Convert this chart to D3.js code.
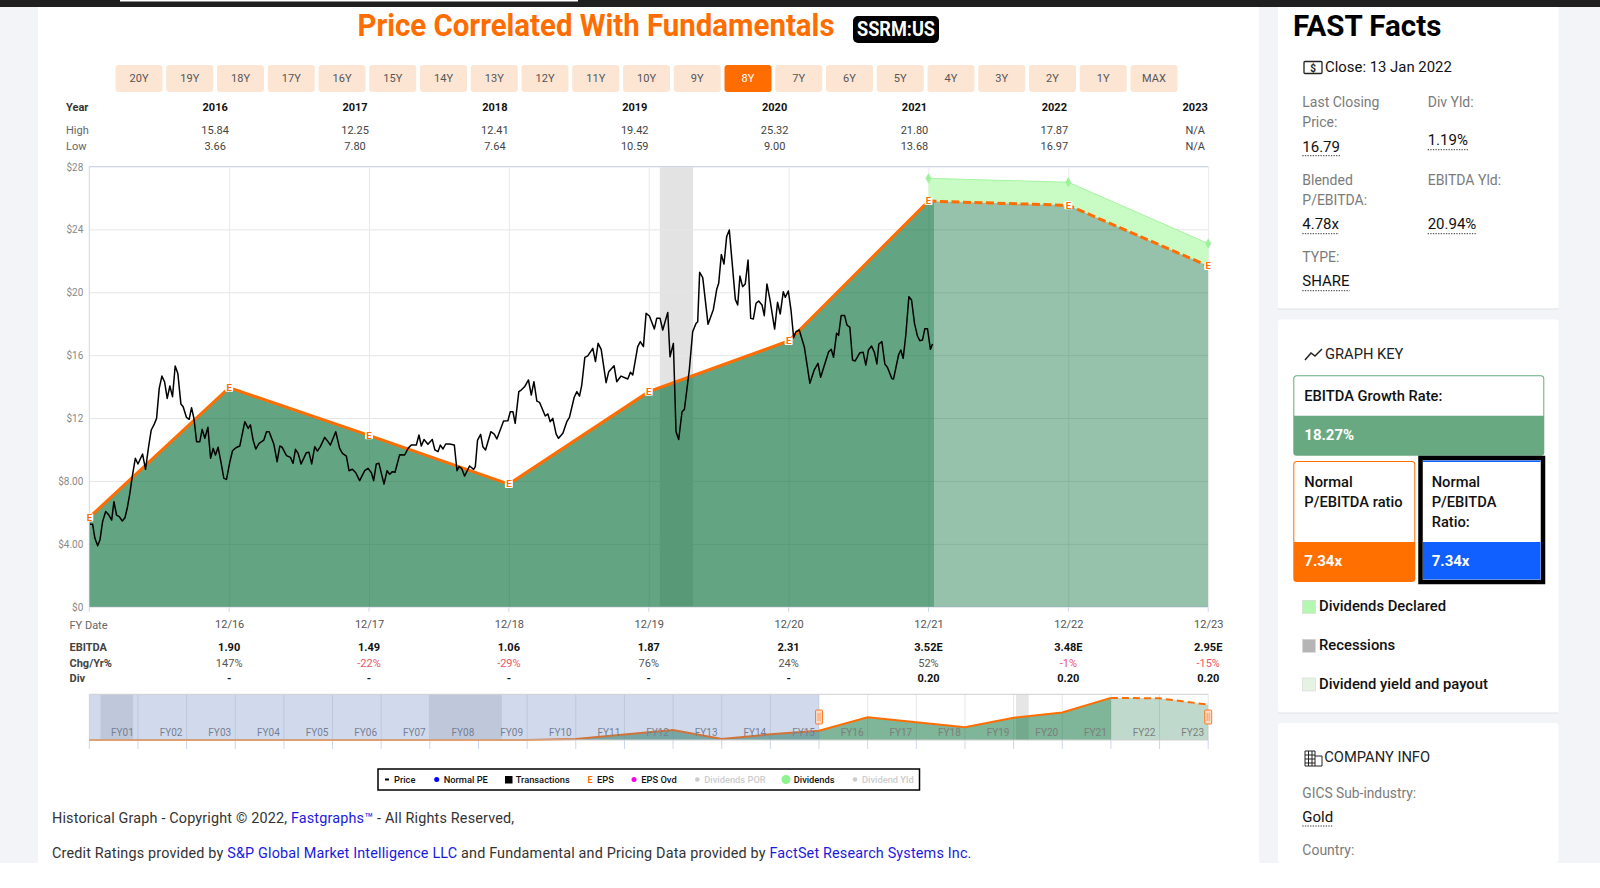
<!DOCTYPE html>
<html lang="en">
<head>
<meta charset="UTF-8">
<title>Price Correlated With Fundamentals - SSRM:US</title>
<script src="https://d3js.org/d3.v7.min.js"></script>
<style>
    body { margin: 0; background: #fff; font-family: Roboto, sans-serif; }
    svg { display: block; }
    svg text { font-family: Roboto, sans-serif; }
</style>
</head>
<body>
<svg id="page" width="1600" height="888"></svg>
<script>
// range buttons
const rangeButtons = ["20Y","19Y","18Y","17Y","16Y","15Y","14Y","13Y","12Y","11Y","10Y","9Y","8Y","7Y","6Y","5Y","4Y","3Y","2Y","1Y","MAX"];
const activeRange = "8Y";

// table above the chart
const tableYears = ["2016","2017","2018","2019","2020","2021","2022","2023"];
const tableHigh = ["15.84","12.25","12.41","19.42","25.32","21.80","17.87","N/A"];
const tableLow = ["3.66","7.80","7.64","10.59","9.00","13.68","16.97","N/A"];

// table below the chart
const fyDates = ["12/16","12/17","12/18","12/19","12/20","12/21","12/22","12/23"];
const ebitdaLabels = ["1.90","1.49","1.06","1.87","2.31","3.52E","3.48E","2.95E"];
const chgLabels = ["147%","-22%","-29%","76%","24%","52%","-1%","-15%"];
const divLabels = ["-","-","-","-","-","0.20","0.20","0.20"];

const yTicks = [0,4,8,12,16,20,24,28];
const yTickLabels = ["$0","$4.00","$8.00","$12","$16","$20","$24","$28"];

// years after FY end 12/15, and EBITDA-justified value at each FY end
const epsYears = [0,1,2,3,4,5,6,7,8];
const epsValues = [5.68,13.93,10.90,7.80,13.68,16.90,25.80,25.53,21.67];
const lastActualYear = 6.04;
const forecastFrom = 6;

// earnings + dividends top for the estimate years
const divYears = [6,7,8];
const divTop = [27.25,27.00,23.10];

const recession = [4.079,4.317];

// price
const priceYears = [.005,.024,.040,.060,.076,.095,.117,.140,.160,.176,.195,.214,.236,.255,.271,.290,.307,.329,.348,.381,.402,.424,.443,.462,.481,.500,.519,.538,.557,.576,.595,.614,.633,.655,.671,.695,.714,.731,.748,.767,.790,.807,.826,.848,.867,.886,.902,.921,.943,.962,.981,
    1.005,1.024,1.048,1.076,1.112,1.136,1.152,1.171,1.190,1.214,1.248,1.267,1.286,1.319,1.343,1.362,1.379,1.410,1.438,1.457,1.474,1.493,1.514,1.552,1.571,1.590,1.612,1.631,1.652,1.683,1.707,1.724,1.762,1.790,1.810,1.838,1.857,1.881,1.905,1.933,1.969,1.993,
    2.017,2.033,2.052,2.071,2.107,2.129,2.148,2.167,2.186,2.219,2.255,2.279,2.302,2.338,2.357,2.374,2.393,2.421,2.452,2.471,2.493,2.510,2.529,2.548,2.576,2.610,2.629,2.643,2.662,2.683,2.719,2.748,2.760,2.776,2.798,2.814,2.833,2.871,2.895,2.914,2.962,2.993,
    3.010,3.029,3.045,3.071,3.088,3.112,3.140,3.160,3.179,3.200,3.219,3.260,3.279,3.295,3.314,3.338,3.355,3.386,3.414,3.433,3.467,3.486,3.505,3.521,3.543,3.564,3.600,3.619,3.638,3.660,3.695,3.714,3.752,3.771,3.802,3.850,3.869,3.886,3.921,3.940,3.962,3.981,
    4.005,4.040,4.057,4.081,4.100,4.136,4.152,4.176,4.195,4.214,4.238,4.255,4.290,4.314,4.338,4.350,4.364,4.386,4.424,4.462,4.486,4.500,4.519,4.538,4.557,4.576,4.619,4.636,4.652,4.671,4.690,4.710,4.729,4.748,4.767,4.786,4.810,4.826,4.845,4.867,4.900,4.921,4.940,4.962,4.976,4.998,
    5.017,5.036,5.052,5.076,5.112,5.152,5.183,5.210,5.229,5.286,5.305,5.321,5.343,5.357,5.376,5.400,5.417,5.438,5.457,5.476,5.510,5.533,5.552,5.571,5.593,5.614,5.631,5.645,5.667,5.688,5.707,5.738,5.750,5.786,5.802,5.819,5.838,5.860,5.879,5.900,5.921,5.938,5.957,5.974,5.993,
    6.014,6.029];
const priceValues = [5.24,5.24,4.35,3.88,4.24,5.41,6.06,5.83,5.51,6.68,5.83,5.73,5.45,5.66,6.26,7.21,8.27,9.44,9.08,9.71,8.74,10.18,11.24,11.56,11.98,13.89,14.67,14.31,13.25,14.04,13.36,15.31,14.84,12.89,12.72,12.04,11.92,12.66,11.98,10.50,10.50,11.28,10.71,11.41,9.44,10.07,9.65,10.14,9.12,8.16,8.10,
    9.22,9.92,10.11,10.22,11.77,11.34,11.56,10.60,10.03,10.39,10.60,11.13,11.13,10.35,9.22,10.22,10.14,9.61,9.50,9.12,10.01,9.75,9.08,9.80,9.82,9.08,10.18,9.90,10.18,10.77,10.50,10.28,11.13,10.07,9.75,9.58,8.65,8.74,8.52,8.02,8.65,8.80,
    8.52,8.02,9.08,9.12,7.80,8.65,8.42,8.59,8.55,9.67,9.65,10.07,10.28,10.28,10.92,10.22,10.64,10.33,10.64,9.97,9.86,10.28,10.03,10.35,10.35,10.28,8.65,8.91,8.80,8.31,8.95,8.74,8.91,10.60,10.96,10.18,9.97,11.13,10.98,10.67,11.81,11.83,
    12.40,12.40,11.66,13.68,13.78,13.99,14.42,13.46,14.31,13.08,13.00,12.13,12.26,11.77,11.98,10.98,10.71,11.03,11.77,12.04,13.32,13.68,13.40,14.10,15.86,15.95,16.43,15.59,16.75,16.37,14.25,14.95,15.33,14.31,14.67,14.48,14.91,14.74,16.54,16.86,16.54,18.66,
    18.49,17.66,18.34,18.34,17.60,18.72,15.90,16.75,11.13,10.64,12.40,12.55,15.06,17.49,18.02,18.13,21.27,20.93,17.96,18.91,20.19,20.57,22.41,21.80,23.54,23.96,19.55,19.19,21.03,20.36,20.53,22.05,18.34,18.30,19.30,19.44,19.19,18.51,20.53,19.51,17.66,19.36,18.62,20.04,19.68,20.08,
    18.87,17.11,17.49,17.60,16.54,14.21,15.06,15.48,14.59,16.22,16.37,15.86,17.39,17.26,18.53,18.53,17.92,17.77,15.69,15.63,16.16,16.18,15.37,16.33,16.58,16.16,15.44,16.71,16.86,15.44,15.22,14.52,14.48,16.01,16.33,15.80,17.28,19.72,19.51,18.02,17.22,16.92,16.96,17.68,17.68,
    16.37,16.71];

// navigator: whole history, FY00 to FY23
const navLabels = ["FY01","FY02","FY03","FY04","FY05","FY06","FY07","FY08","FY09","FY10","FY11","FY12","FY13","FY14","FY15","FY16","FY17","FY18","FY19","FY20","FY21","FY22","FY23"];
const navValues = [0.05,0.05,0.05,0.05,0.05,0.05,0.05,0.05,0.05,0,0.6,3.4,6.1,0.6,3.5,5.68,13.93,10.90,7.80,13.68,16.90,25.80,25.53,21.67];
const navRecessions = [[0.23,0.90],[6.98,8.48],[19.05,19.31]];
const navSelectedTo = 15;
const navActualTo = 21;

// legend under the navigator
const legendItems = ["Price","Normal PE","Transactions","EPS","EPS Ovd","Dividends POR","Dividends","Dividend Yld"];

const ORANGE = "#ff6d00";
const GREEN = "#006b32";
const svg = d3.select("#page");

function label(parent, x, y, str, opts = {}) {
    return parent.append("text")
        .attr("x", x).attr("y", y)
        .attr("text-anchor", opts.anchor || "start")
        .attr("font-size", opts.size || 11)
        .attr("font-weight", opts.weight || 400)
        .attr("fill", opts.fill || "#333")
        .text(str);
}

// page background and cards
svg.append("rect").attr("width", 1600).attr("height", 863).attr("fill", "#f2f4f8");
svg.append("rect").attr("x", 38).attr("width", 1221).attr("height", 863).attr("fill", "#fff");
[[0,309],[319.5,713],[723,863]].forEach(c => {
    svg.append("rect").attr("x", 1278).attr("y", c[0]).attr("width", 280.5).attr("height", c[1] - c[0])
        .attr("rx", 3).attr("fill", "#fff");
    if (c[1] < 863) svg.append("line").attr("x1", 1278).attr("x2", 1558).attr("y1", c[1]).attr("y2", c[1]).attr("stroke", "#dfe1e6");
});
svg.append("rect").attr("width", 1600).attr("height", 7).attr("fill", "#1f1f1f");
svg.append("rect").attr("x", 120).attr("width", 458).attr("height", 1.5).attr("fill", "#fff");

// title
label(svg, 357.5, 36, "Price Correlated With Fundamentals", {size: 30.5, weight: 700, fill: "#ff6d00"})
    .attr("textLength", 477).attr("lengthAdjust", "spacingAndGlyphs");
svg.append("rect").attr("x", 853).attr("y", 16).attr("width", 86).attr("height", 27).attr("rx", 5).attr("fill", "#000");
label(svg, 896, 36, "SSRM:US", {size: 19.5, weight: 700, fill: "#fff", anchor: "middle"})
    .attr("textLength", 78).attr("lengthAdjust", "spacingAndGlyphs");

// range buttons
const btnX = d3.scalePoint().domain(rangeButtons).range([139, 1154]);
const btn = svg.append("g").selectAll("g").data(rangeButtons).join("g")
    .attr("transform", d => `translate(${btnX(d)},0)`);
btn.append("rect").attr("x", -23.5).attr("y", 65).attr("width", 47).attr("height", 27).attr("rx", 3)
    .attr("fill", d => d === activeRange ? ORANGE : "#fde5d4");
btn.append("text").attr("y", 81.8).attr("text-anchor", "middle").attr("font-size", 11)
    .attr("fill", d => d === activeRange ? "#fff" : "#555").text(d => d);

// main chart
const x = d3.scaleLinear().domain([0, 8]).range([89.3, 1208.2]);
const y = d3.scaleLinear().domain([0, 28]).range([606.7, 166.5]);
const chart = svg.append("g");

// top table
label(svg, 66, 111.4, "Year", {weight: 700, fill: "#333"});
label(svg, 66, 134, "High", {fill: "#666"});
label(svg, 66, 149.5, "Low", {fill: "#666"});
tableYears.forEach((d, i) => {
    const tx = x(i + 1) - 14 + (i === 7 ? 1 : 0);
    label(svg, tx, 111.4, d, {weight: 700, anchor: "middle", fill: "#111"});
    label(svg, tx, 134, tableHigh[i], {anchor: "middle", fill: "#444"});
    label(svg, tx, 149.5, tableLow[i], {anchor: "middle", fill: "#444"});
});

chart.append("rect").attr("x", x(recession[0])).attr("y", y(28))
    .attr("width", x(recession[1]) - x(recession[0])).attr("height", y(0) - y(28)).attr("fill", "#e3e3e3");

// grid and axes
const yAxis = d3.axisLeft(y).tickValues(yTicks).tickSize(-(x(8) - x(0))).tickPadding(6)
    .tickFormat((d, i) => yTickLabels[i]);
const yG = chart.append("g").attr("transform", `translate(${x(0)},0)`).call(yAxis);
yG.select(".domain").remove();
yG.selectAll("line").attr("stroke", "#e6e6e6");
yG.selectAll("text").attr("fill", "#888").attr("font-size", 10).attr("dy", "0.36em");

const xAxis = d3.axisBottom(x).tickValues(d3.range(1, 9)).tickSize(-(y(0) - y(28))).tickPadding(11.5)
    .tickFormat((d, i) => fyDates[i]);
const xG = chart.append("g").attr("transform", `translate(0,${y(0)})`).call(xAxis);
xG.select(".domain").remove();
xG.selectAll("line").attr("stroke", "#e9e9e9");
xG.selectAll("text").attr("fill", "#555").attr("font-size", 11).attr("dy", "0.9em");

// blue-grey frame and small ticks under the axis
const frame = [[x(0), y(28), x(8), y(28)], [x(0), y(28), x(0), y(0) + 5], [x(0), y(0), x(8), y(0)]];
frame.forEach(f => chart.append("line").attr("x1", f[0]).attr("y1", f[1]).attr("x2", f[2]).attr("y2", f[3]).attr("stroke", "#ccd6eb"));
chart.append("g").selectAll("line").data(d3.range(1, 9)).join("line")
    .attr("x1", d => x(d)).attr("x2", d => x(d)).attr("y1", y(0)).attr("y2", y(0) + 5).attr("stroke", "#ccd6eb");

const epsPoints = epsYears.map((d, i) => [d, epsValues[i]]);
const areaGen = d3.area().x(d => x(d[0])).y0(y(0)).y1(d => y(d[1]));
const lineGen = d3.line().x(d => x(d[0])).y(d => y(d[1]));

const defs = svg.append("defs");
defs.append("clipPath").attr("id", "clipActual").append("rect")
    .attr("x", x(0)).attr("y", 0).attr("width", x(lastActualYear) - x(0)).attr("height", 888);
defs.append("clipPath").attr("id", "clipForecast").append("rect")
    .attr("x", x(lastActualYear)).attr("y", 0).attr("width", x(8) - x(lastActualYear)).attr("height", 888);

// dividends band on top of the estimates
const divPoints = divYears.map((d, i) => [d, divTop[i], epsValues[epsYears.indexOf(d)]]);
chart.append("path").datum(divPoints)
    .attr("d", d3.area().x(d => x(d[0])).y0(d => y(d[2])).y1(d => y(d[1])))
    .attr("fill", "#c8fcc4");
chart.append("path").datum(divPoints).attr("d", lineGen).attr("fill", "none").attr("stroke", "#a5f5a0").attr("stroke-width", 1);
chart.append("g").selectAll("path").data(divPoints).join("path")
    .attr("d", d3.symbol(d3.symbolDiamond, 30))
    .attr("transform", d => `translate(${x(d[0])},${y(d[1])})`)
    .attr("fill", "#9cf29a");

chart.append("path").datum(epsPoints).attr("d", areaGen).attr("clip-path", "url(#clipActual)")
    .attr("fill", GREEN).attr("fill-opacity", 0.61);
chart.append("path").datum(epsPoints).attr("d", areaGen).attr("clip-path", "url(#clipForecast)")
    .attr("fill", GREEN).attr("fill-opacity", 0.41);

// EPS line, dashed for the estimates
chart.append("path").datum(epsPoints.filter(d => d[0] <= forecastFrom)).attr("d", lineGen)
    .attr("fill", "none").attr("stroke", ORANGE).attr("stroke-width", 3);
chart.append("path").datum(epsPoints.filter(d => d[0] >= forecastFrom)).attr("d", lineGen)
    .attr("fill", "none").attr("stroke", ORANGE).attr("stroke-width", 3).attr("stroke-dasharray", "8,3.5");

// price line
chart.append("path").datum(priceYears.map((d, i) => [d, priceValues[i]])).attr("d", lineGen)
    .attr("fill", "none").attr("stroke", "#000").attr("stroke-width", 1.5).attr("stroke-linejoin", "round");

// E markers
const eMark = chart.append("g").selectAll("g").data(epsPoints).join("g")
    .attr("transform", d => `translate(${x(d[0])},${y(d[1])})`);
eMark.append("rect").attr("x", -4).attr("y", -4).attr("width", 8).attr("height", 8).attr("rx", 1).attr("fill", "#fff");
eMark.append("text").attr("text-anchor", "middle").attr("y", 3.3).attr("font-size", 9.5).attr("font-weight", 700)
    .attr("fill", ORANGE).text("E");

// table below the chart
label(svg, 69.5, 628.5, "FY Date", {fill: "#666"});
label(svg, 69.5, 650.5, "EBITDA", {weight: 700, fill: "#444"});
label(svg, 69.5, 666.5, "Chg/Yr%", {weight: 700, fill: "#444"});
label(svg, 69.5, 681.5, "Div", {weight: 700, fill: "#444"});
fyDates.forEach((d, i) => {
    const tx = x(i + 1);
    label(svg, tx, 650.5, ebitdaLabels[i], {weight: 700, anchor: "middle", fill: "#111"});
    label(svg, tx, 666.5, chgLabels[i], {anchor: "middle", fill: chgLabels[i][0] === "-" ? "#ee5566" : "#555"});
    label(svg, tx, 681.5, divLabels[i], {anchor: "middle", weight: 700, fill: "#111"});
});

// navigator
const navX = d3.scaleLinear().domain([0, 23]).range([89.3, 1208.2]);
const navY = d3.scaleLinear().domain([0, 28]).range([740, 694.3]);
const nav = svg.append("g");
navRecessions.forEach(r => {
    nav.append("rect").attr("x", navX(r[0])).attr("y", navY(28)).attr("width", navX(r[1]) - navX(r[0]))
        .attr("height", navY(0) - navY(28)).attr("fill", "#e6e6e6");
});
nav.append("g").selectAll("line").data(d3.range(0, 24)).join("line")
    .attr("x1", d => navX(d)).attr("x2", d => navX(d)).attr("y1", navY(28)).attr("y2", navY(0))
    .attr("stroke", "#e6e6e6");
nav.append("g").selectAll("line").data(d3.range(0, 24)).join("line")
    .attr("x1", d => navX(d)).attr("x2", d => navX(d)).attr("y1", navY(0)).attr("y2", navY(0) + 9)
    .attr("stroke", "#ccd6eb");

const navPoints = navValues.map((d, i) => [i, d]);
const navArea = d3.area().x(d => navX(d[0])).y0(navY(0)).y1(d => navY(d[1]));
const navLine = d3.line().x(d => navX(d[0])).y(d => navY(d[1]));
nav.append("path").datum(navPoints.filter(d => d[0] <= navActualTo)).attr("d", navArea).attr("fill", GREEN).attr("fill-opacity", 0.5);
nav.append("path").datum(navPoints.filter(d => d[0] >= navActualTo)).attr("d", navArea).attr("fill", GREEN).attr("fill-opacity", 0.25);
nav.append("path").datum(navPoints.filter(d => d[0] <= navActualTo)).attr("d", navLine)
    .attr("fill", "none").attr("stroke", ORANGE).attr("stroke-width", 2);
nav.append("path").datum(navPoints.filter(d => d[0] >= navActualTo)).attr("d", navLine)
    .attr("fill", "none").attr("stroke", ORANGE).attr("stroke-width", 2).attr("stroke-dasharray", "7,4");
navLabels.forEach((d, i) => label(nav, navX(i + 1) - 15.5, 736, d, {anchor: "middle", size: 10, fill: "#7d7d7d"}));

// out-of-range mask and frame
nav.append("rect").attr("x", navX(0)).attr("y", navY(28)).attr("width", navX(navSelectedTo) - navX(0))
    .attr("height", navY(0) - navY(28)).attr("fill", "#6685c2").attr("fill-opacity", 0.3);
[navY(28), navY(0)].forEach(v => nav.append("line").attr("x1", navX(0)).attr("x2", navX(23)).attr("y1", v).attr("y2", v).attr("stroke", "#cfcfcf"));
[navX(navSelectedTo), navX(23)].forEach(hx => {
    nav.append("rect").attr("x", hx - 3.5).attr("y", 710).attr("width", 7).attr("height", 14).attr("rx", 1)
        .attr("fill", "#fdd9c0").attr("stroke", "#ff7a2a");
    [-1, 1].forEach(o => nav.append("line").attr("x1", hx + o).attr("x2", hx + o).attr("y1", 713).attr("y2", 721).attr("stroke", "#ff9a60"));
});

// legend
svg.append("rect").attr("x", 378).attr("y", 769).attr("width", 541.5).attr("height", 21).attr("fill", "#fff").attr("stroke", "#000").attr("stroke-width", 1.5);
const legendTextX = [394, 443.7, 515.7, 597, 641.3, 704.3, 793.7, 862];
const legendOn = [true, true, true, true, true, false, true, false];
legendItems.forEach((d, i) => label(svg, legendTextX[i], 783, d, {size: 9.3, weight: 500, fill: legendOn[i] ? "#111" : "#ccc"}));
svg.append("rect").attr("x", 385).attr("y", 778.5).attr("width", 4).attr("height", 2).attr("fill", "#000");
svg.append("circle").attr("cx", 436.7).attr("cy", 779.5).attr("r", 2.5).attr("fill", "#0000ff");
svg.append("rect").attr("x", 505).attr("y", 776).attr("width", 7.5).attr("height", 7.5).attr("fill", "#000");
label(svg, 590, 783, "E", {size: 9, weight: 700, anchor: "middle", fill: ORANGE});
svg.append("circle").attr("cx", 634).attr("cy", 779.5).attr("r", 2.5).attr("fill", "#ff00ee");
svg.append("circle").attr("cx", 697.3).attr("cy", 779.5).attr("r", 2.3).attr("fill", "#ccc");
svg.append("circle").attr("cx", 786).attr("cy", 779.5).attr("r", 4.5).attr("fill", "#8ff28f");
svg.append("circle").attr("cx", 855).attr("cy", 779.5).attr("r", 2.3).attr("fill", "#ccc");

// footer
function richLine(yPos, parts) {
    const t = svg.append("text").attr("x", 52).attr("y", yPos).attr("font-size", 14.4)
        .attr("letter-spacing", 0.165).attr("fill", "#333");
    parts.forEach(p => t.append("tspan").attr("fill", p[1] ? "#1a1adf" : "#333").text(p[0]));
}
richLine(822.8, [["Historical Graph - Copyright © 2022, ", false], ["Fastgraphs™", true], [" - All Rights Reserved,", false]]);
richLine(857.8, [["Credit Ratings provided by ", false], ["S&P Global Market Intelligence LLC", true], [" and Fundamental and Pricing Data provided by ", false], ["FactSet Research Systems Inc.", true]]);

// side panel: FAST Facts
label(svg, 1293, 36, "FAST Facts", {size: 29.5, weight: 700, fill: "#000"});
svg.append("rect").attr("x", 1304).attr("y", 61.5).attr("width", 18).attr("height", 12).attr("rx", 1).attr("fill", "none").attr("stroke", "#222").attr("stroke-width", 1.3);
label(svg, 1313, 71.5, "$", {size: 10, weight: 700, anchor: "middle", fill: "#222"});
label(svg, 1325, 72.3, "Close: 13 Jan 2022", {size: 14.9, fill: "#111"});

const GREY_TXT = "#7b7b7b";
function fact(xPos, yPos, str, lineY) {
    const t = label(svg, xPos, yPos, str, {size: 15, fill: "#111"});
    const w = t.node().getComputedTextLength();
    svg.append("line").attr("x1", xPos).attr("x2", xPos + w).attr("y1", lineY).attr("y2", lineY)
        .attr("stroke", "#333").attr("stroke-dasharray", "1.3,1.3");
}
[["Last Closing",1302.3,107.3],["Price:",1302.3,127],["Div Yld:",1427.7,107.3],["Blended",1302.3,185],["P/EBITDA:",1302.3,205],["EBITDA Yld:",1427.7,185],["TYPE:",1302.3,261.7]]
    .forEach(d => label(svg, d[1], d[2], d[0], {size: 14, fill: GREY_TXT}));
fact(1302.3, 151.7, "16.79", 155.7);
fact(1427.7, 145, "1.19%", 149.7);
fact(1302.3, 229, "4.78x", 233.7);
fact(1427.7, 229, "20.94%", 233.7);
fact(1302.3, 286, "SHARE", 290.7);

// graph key
svg.append("path").attr("d", "M1305,360 L1311,353 L1315,356 L1322,349").attr("fill", "none").attr("stroke", "#222").attr("stroke-width", 1.5);
label(svg, 1325, 359, "GRAPH KEY", {size: 14.7, fill: "#222"});

function keyBox(bx, by, bw, hTop, hBot, color, lines, value) {
    svg.append("rect").attr("x", bx).attr("y", by).attr("width", bw).attr("height", hTop + hBot).attr("rx", 3.5).attr("fill", color);
    svg.append("path").attr("fill", "#fff")
        .attr("d", `M${bx + 1},${by + hTop} V${by + 3.5} Q${bx + 1},${by + 1} ${bx + 3.5},${by + 1} H${bx + bw - 3.5} Q${bx + bw - 1},${by + 1} ${bx + bw - 1},${by + 3.5} V${by + hTop} Z`);
    lines.forEach((l, i) => label(svg, bx + 11, by + 25.5 + i * 20, l, {size: 14.7, weight: 500, fill: "#111"}));
    label(svg, bx + 11, by + hTop + 24, value, {size: 15, weight: 700, fill: "#fff"});
}
keyBox(1293.3, 375.3, 251, 40.4, 40, "#69a981", ["EBITDA Growth Rate:"], "18.27%");
keyBox(1293.3, 461, 122, 81, 40, "#ff7000", ["Normal", "P/EBITDA ratio"], "7.34x");
svg.append("rect").attr("x", 1420.5).attr("y", 458).attr("width", 122.5).attr("height", 124).attr("fill", "#fff").attr("stroke", "#000").attr("stroke-width", 4.5);
svg.append("rect").attr("x", 1423).attr("y", 460.5).attr("width", 117.5).attr("height", 1.5).attr("fill", "#1060ff");
svg.append("rect").attr("x", 1423).attr("y", 542).attr("width", 117.5).attr("height", 37.5).attr("fill", "#1060ff");
["Normal", "P/EBITDA", "Ratio:"].forEach((l, i) => label(svg, 1431.7, 486.7 + i * 20, l, {size: 14.7, weight: 500, fill: "#111"}));
label(svg, 1431.7, 566, "7.34x", {size: 15, weight: 700, fill: "#fff"});

[["Dividends Declared", 600.3, "#b3f7b0"], ["Recessions", 639.3, "#b5b5b5"], ["Dividend yield and payout", 678, "#e6f3e4"]].forEach(d => {
    svg.append("rect").attr("x", 1302.5).attr("y", d[1]).attr("width", 13).attr("height", 13).attr("fill", d[2]).attr("stroke", "#d5d5d5").attr("stroke-width", 0.6);
    label(svg, 1319, d[1] + 10.6, d[0], {size: 14.8, weight: 500, fill: "#111"});
});

// company info
const bld = svg.append("g").attr("stroke", "#222").attr("fill", "none").attr("stroke-width", 1);
bld.append("path").attr("d", "M1305,766 V751 H1315 V766 Z M1315,756 H1322 V766 H1315 M1305,755 H1315 M1305,759 H1315 M1305,763 H1315 M1308.5,751 V766 M1312,751 V766");
label(svg, 1324.3, 762.3, "COMPANY INFO", {size: 14.7, fill: "#222"});
label(svg, 1302.3, 798, "GICS Sub-industry:", {size: 13.8, fill: GREY_TXT});
fact(1302.3, 821.7, "Gold", 826);
label(svg, 1302.3, 855, "Country:", {size: 14, fill: GREY_TXT});
</script>
</body>
</html>
